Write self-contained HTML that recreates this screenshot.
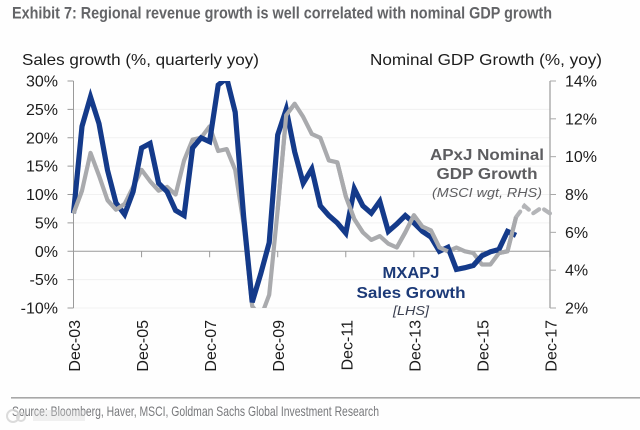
<!DOCTYPE html>
<html lang="en">
<head>
<meta charset="utf-8">
<title>Exhibit 7</title>
<style>
html,body{margin:0;padding:0;background:#fefefe;}
#wrap{position:relative;width:640px;height:430px;overflow:hidden;background:#fefefe;}
svg{position:absolute;left:0;top:0;}
text{font-family:"Liberation Sans",sans-serif;}
</style>
</head>
<body>
<div id="wrap">
<svg id="chart" width="640" height="430" viewBox="0 0 640 430">
  <defs><clipPath id="plot-clip"><rect x="60" y="81" width="500" height="227"/></clipPath></defs>
  <text x="12" y="18.5" font-size="17" font-weight="bold" fill="#636467" textLength="540" lengthAdjust="spacingAndGlyphs">Exhibit 7: Regional revenue growth is well correlated with nominal GDP growth</text>
  <text x="22" y="65" font-size="16" fill="#1c1c1c" textLength="237" lengthAdjust="spacingAndGlyphs">Sales growth (%, quarterly yoy)</text>
  <text x="370" y="65" font-size="16" fill="#1c1c1c" textLength="232" lengthAdjust="spacingAndGlyphs">Nominal GDP Growth (%, yoy)</text>
  <g id="grid"></g>
  <g id="axes"></g>
  <g id="series" clip-path="url(#plot-clip)"></g>
  <g>
    <text x="487" y="160" font-size="16" font-weight="bold" fill="#5d5d60" text-anchor="middle" textLength="114" lengthAdjust="spacingAndGlyphs">APxJ Nominal</text>
    <text x="487" y="179" font-size="16" font-weight="bold" fill="#5d5d60" text-anchor="middle" textLength="101" lengthAdjust="spacingAndGlyphs">GDP Growth</text>
    <text x="487" y="197" font-size="13" font-style="italic" fill="#5d5d60" text-anchor="middle" textLength="110" lengthAdjust="spacingAndGlyphs">(MSCI wgt, RHS)</text>
  </g>
  <g>
    <text x="411" y="278" font-size="16" font-weight="bold" fill="#1c3a78" text-anchor="middle" textLength="57" lengthAdjust="spacingAndGlyphs">MXAPJ</text>
    <text x="411" y="298" font-size="16" font-weight="bold" fill="#1c3a78" text-anchor="middle" textLength="109" lengthAdjust="spacingAndGlyphs">Sales Growth</text>
    <text x="411" y="315" font-size="13" font-style="italic" fill="#3a3f50" text-anchor="middle" textLength="36" lengthAdjust="spacingAndGlyphs">[LHS]</text>
  </g>
  <rect x="11" y="397" width="629" height="1.6" fill="#a8a8a8"/>
  <text x="12" y="416" font-size="14" fill="#77787b" textLength="367" lengthAdjust="spacingAndGlyphs">Source: Bloomberg, Haver, MSCI, Goldman Sachs Global Investment Research</text>
  <g opacity="0.85">
    <circle cx="13" cy="416" r="6" fill="none" stroke="#d6d6d6" stroke-width="2"/>
    <circle cx="21" cy="417" r="4" fill="none" stroke="#d6d6d6" stroke-width="2"/>
    <rect x="33" y="410" width="52" height="11" fill="#d9d9d9" opacity="0.45"/>
  </g>
</svg>
</div>
<script>
var salesGrowth = [6.7,22,27.2,22.5,14.3,8.5,6.5,10.5,18.2,19,12,10.5,7.2,6.3,18.2,20,19.3,29.3,30.5,24.5,6,-9,-4,1.5,20.5,25,17.5,12,14.5,8,6.3,5,3.2,11,8,6.7,8.8,3.5,4.8,6.3,5,3.5,2.5,0,0.7,-3.2,-2.9,-2.5,-0.8,-0.1,0.3,3.5,2.8];
var gdpGrowth = [7,8.2,10.2,9,7.7,7.2,7.5,8.4,9.3,8.7,8.2,8.4,8,9.8,10.9,11,11.6,10.3,10.4,9.3,6.4,2.1,1.5,2.7,7.2,12.2,12.8,12.1,11.2,11,9.8,9.7,7.9,6.7,6,5.6,5.8,5.4,5.2,6,6.9,6.3,6.1,5.2,5,5.2,5,4.9,4.3,4.3,4.9,5,6.8];
var gdpForecast = [6.8,7.4,7,7.3,7];
var leftTicks = [30,25,20,15,10,5,0,-5,-10];
var rightTicks = [14,12,10,8,6,4,2];
var dateLabels = ['Dec-03','Dec-05','Dec-07','Dec-09','Dec-11','Dec-13','Dec-15','Dec-17'];
var gdpOnTopRanges = [[0,1],[4,6],[24,26],[31,34],[38,44],[50,52]];

var NS = 'http://www.w3.org/2000/svg';
var plotLeft = 73.5, plotRight = 550, plotTop = 81, plotBottom = 308;
var quarterCount = (dateLabels.length - 1) * 8;

function xScale(i) { return plotLeft + (plotRight - plotLeft) * i / quarterCount; }
function yLeft(v) { return plotTop + (30 - v) * (plotBottom - plotTop) / 40; }
function yRight(v) { return plotTop + (14 - v) * (plotBottom - plotTop) / 12; }

function make(tag, parent, attrs) {
  var el = document.createElementNS(NS, tag);
  for (var k in attrs) el.setAttribute(k, attrs[k]);
  parent.appendChild(el);
  return el;
}
function pointsOf(values, yFn, start) {
  return values.map(function (v, i) { return xScale(start + i).toFixed(1) + ',' + yFn(v).toFixed(1); }).join(' ');
}

var grid = document.getElementById('grid');
var axes = document.getElementById('axes');
var series = document.getElementById('series');

leftTicks.forEach(function (t) {
  var y = yLeft(t);
  if (t !== 0 && t !== 30) {
    var g = make('line', grid, {x1: plotLeft, x2: plotRight, y1: y, y2: y, stroke: '#f1f1f1', 'stroke-width': 1});
    
    
  }
  var tick = make('line', axes, {x1: plotLeft - 6, x2: plotLeft, y1: y, y2: y, stroke: '#9a9a9a', 'stroke-width': 1});
  
  
  var label = make('text', axes, {x: 58, y: y + 5.5, 'font-size': 16, fill: '#1c1c1c', 'text-anchor': 'end'});
  
  
  label.textContent = t + '%';
});

var leftAxis = make('line', axes, {x1: plotLeft, x2: plotLeft, y1: plotTop, y2: plotBottom, stroke: '#9a9a9a', 'stroke-width': 1});



var zeroLine = make('line', axes, {x1: plotLeft, x2: plotRight, y1: yLeft(0), y2: yLeft(0), stroke: '#9a9a9a', 'stroke-width': 1});



var rightAxis = make('line', axes, {x1: plotRight, x2: plotRight, y1: plotTop, y2: plotBottom, stroke: '#a8a8a8', 'stroke-width': 1.4});



rightTicks.forEach(function (t) {
  var y = yRight(t);
  var tick = make('line', axes, {x1: plotRight, x2: plotRight + 6, y1: y, y2: y, stroke: '#a8a8a8', 'stroke-width': 1});
  
  
  var label = make('text', axes, {x: 565, y: y + 5.5, 'font-size': 16, fill: '#1c1c1c'});
  
  
  label.textContent = t + '%';
});

dateLabels.forEach(function (d, i) {
  var x = xScale(i * 8);
  var tick = make('line', axes, {x1: x, x2: x, y1: yLeft(0), y2: yLeft(0) + 6, stroke: '#9a9a9a', 'stroke-width': 1});
  
  
  var label = make('text', axes, {x: 0, y: 0, 'font-size': 16, fill: '#1c1c1c', 'text-anchor': 'end', transform: 'translate(' + (x + 6.5) + ',320) rotate(-90)'});
  
  
  label.textContent = d;
});

var gdpLine = make('polyline', series, {points: pointsOf(gdpGrowth, yRight, 0), fill: 'none', stroke: '#a9aaad', 'stroke-width': 4.2, 'stroke-linejoin': 'round'});



var forecastLine = make('polyline', series, {points: pointsOf(gdpForecast, yRight, gdpGrowth.length - 1), fill: 'none', stroke: '#b4b5b8', 'stroke-width': 4.2, 'stroke-dasharray': '7 6', 'stroke-linecap': 'round'});



var salesLine = make('polyline', series, {points: pointsOf(salesGrowth, yLeft, 0), fill: 'none', stroke: '#143a8a', 'stroke-width': 5.2, 'stroke-linejoin': 'miter'});



gdpOnTopRanges.forEach(function (r) {
  var seg = make('polyline', series, {points: pointsOf(gdpGrowth.slice(r[0], r[1] + 1), yRight, r[0]), fill: 'none', stroke: '#a9aaad', 'stroke-width': 4.2, 'stroke-linejoin': 'round'});
  
  
});
</script>
</body>
</html>
